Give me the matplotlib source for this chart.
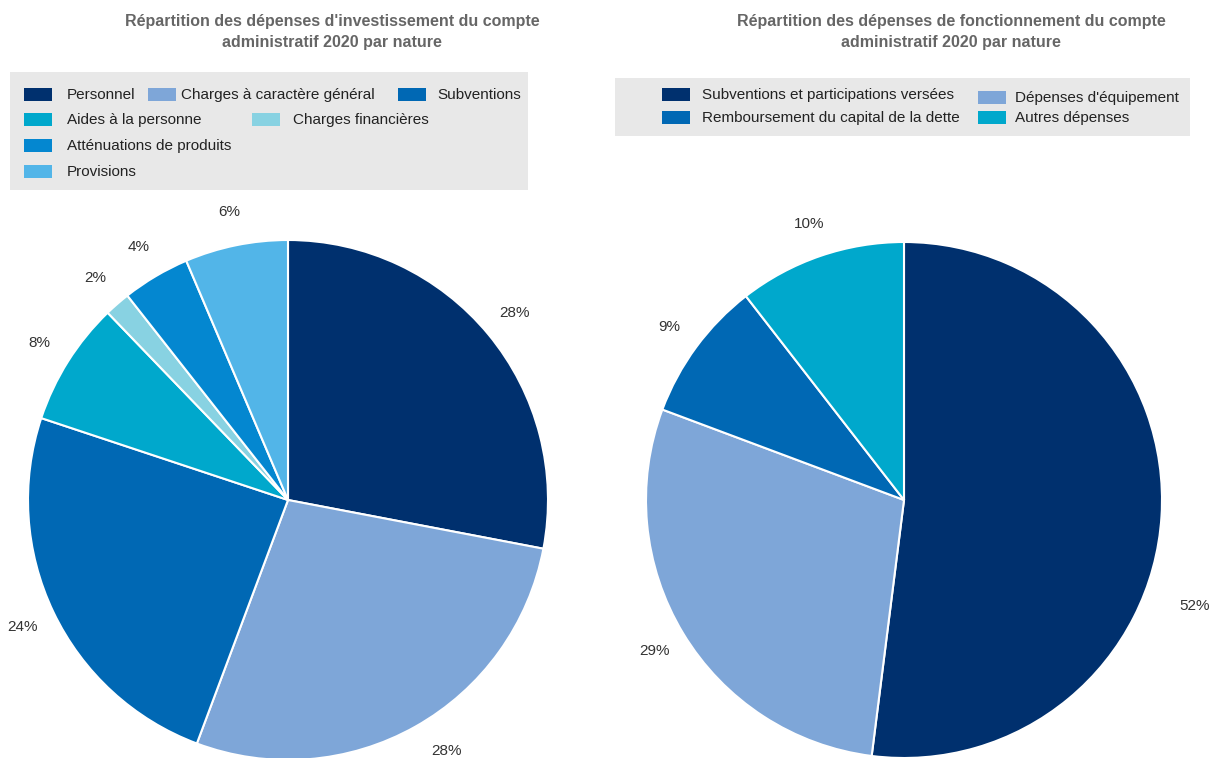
import matplotlib
matplotlib.use("Agg")
import matplotlib.pyplot as plt
from matplotlib.patches import Rectangle
import numpy as np

plt.rcParams['font.family'] = ['Liberation Sans', 'DejaVu Sans']

# ---- data ----
inv_title = "Répartition des dépenses d'investissement du compte\nadministratif 2020 par nature"
inv_labels = ["Personnel", "Charges à caractère général", "Subventions",
              "Aides à la personne", "Charges financières",
              "Atténuations de produits", "Provisions"]
inv_values = [28.0, 27.7, 24.4, 7.7, 1.6, 4.2, 6.4]
inv_colors = ["#00306E", "#7EA6D8", "#0068B4", "#00A8CC", "#88D2E2", "#0487D0", "#52B5E8"]

fon_title = "Répartition des dépenses de fonctionnement du compte\nadministratif 2020 par nature"
fon_labels = ["Subventions et participations versées", "Dépenses d'équipement",
              "Remboursement du capital de la dette", "Autres dépenses"]
fon_values = [52.0, 28.7, 8.8, 10.5]
fon_colors = ["#00306E", "#7EA6D8", "#0068B4", "#00A8CC"]

W, H = 1213, 758
fig = plt.figure(figsize=(W / 100, H / 100), dpi=100)


def px_axes(cx, cy, r):
    return fig.add_axes([(cx - r) / W, (H - cy - r) / H, 2 * r / W, 2 * r / H])


def draw_pie(cx, cy, r, values, colors):
    ax = px_axes(cx, cy, r)
    wedges, texts, autotexts = ax.pie(
        values, colors=colors, startangle=90, counterclock=False,
        autopct='%.0f%%', pctdistance=1.13, radius=1,
        wedgeprops=dict(edgecolor='white', linewidth=1.5),
        textprops=dict(fontsize=11, color='#333333'))
    ax.set_xlim(-1, 1)
    ax.set_ylim(-1, 1)
    ax.set_aspect('equal')
    for t in autotexts:
        t.set_clip_on(False)
    for w in wedges:
        w.set_clip_on(False)
    return ax, autotexts


def place(txt, deg, dist):
    a = np.deg2rad(deg)
    txt.set_position((dist * np.cos(a), dist * np.sin(a)))


axL, atL = draw_pie(288, 500, 260, inv_values, inv_colors)
axR, atR = draw_pie(904, 500, 258, fon_values, fon_colors)
# label adjustments (as in the reference)
place(atL[1], -57.7, 1.14)
place(atR[0], -20, 1.2)

# titles
fig.text(332 / W, 1 - 32 / H, inv_title, ha='center', va='center', fontsize=11.5,
         fontweight='bold', color='#666666', linespacing=1.5)
fig.text(951 / W, 1 - 32 / H, fon_title, ha='center', va='center', fontsize=11.5,
         fontweight='bold', color='#666666', linespacing=1.5)


def draw_legend(box, items, labels, colors):
    x0, y0, x1, y1 = box
    fig.patches.append(Rectangle((x0 / W, 1 - y1 / H), (x1 - x0) / W, (y1 - y0) / H,
                                 transform=fig.transFigure, facecolor='#E8E8E8',
                                 edgecolor='none', zorder=0))
    for (bx, tx, ty), lab, col in zip(items, labels, colors):
        fig.patches.append(Rectangle((bx / W, 1 - (ty + 6) / H), 28 / W, 13 / H,
                                     transform=fig.transFigure, facecolor=col,
                                     edgecolor='none', zorder=1))
        fig.text(tx / W, 1 - ty / H, lab, ha='left', va='center', fontsize=11,
                 color='#222222')


inv_items = [(24, 67, 95), (148, 181, 95), (398, 437, 95),
             (24, 67, 120), (252, 293, 120),
             (24, 67, 146), (24, 67, 172)]
draw_legend((10, 72, 528, 190), inv_items, inv_labels, inv_colors)

fon_items = [(662, 702, 95), (978, 1015, 98), (662, 702, 118), (978, 1015, 118)]
draw_legend((615, 78, 1190, 136), fon_items, fon_labels, fon_colors)

fig.savefig("out.png", dpi=100)
